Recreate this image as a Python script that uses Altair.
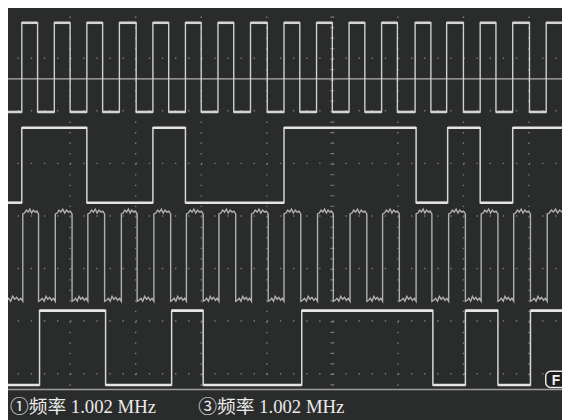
import altair as alt
import pandas as pd

# ---------------- values (screen pixel units) ----------------
# Channel 1: clock (edges alternate rise/fall, starts low)
CH1_EDGES = [22, 38, 55, 71, 88, 104, 121, 138, 155, 171, 188, 204, 221, 237, 254, 271,
             288, 304, 321, 337, 354, 370, 387, 403, 421, 437, 453, 470, 487, 503, 520, 537, 554]
CH1_START_HIGH = False
CH1_LEVELS = [20, 110.5]          # high, low

# Channel 2: data (starts low)
CH2_EDGES = [22, 88, 155, 188, 288, 422, 454, 487, 520]
CH2_START_HIGH = False
CH2_LEVELS = [126.5, 202.5]

# Channel 3: clock copy (starts low)
CH3_EDGES = [23, 39, 56, 73, 89, 106, 123, 139, 156, 173, 189, 206, 222, 239, 255, 272,
             288, 305, 322, 338, 355, 372, 388, 405, 422, 438, 455, 472, 488, 505, 521, 538, 555]
CH3_START_HIGH = False
CH3_LEVELS = [214, 302.5]
CH3_TOP_NOISE = [-1, -4, -2, -5, -1, -4, -2, -3]
CH3_BOT_NOISE = [-1, -3, 0, -5, -2, -4, -1, -3]

# Channel 4: delayed data (starts high)
CH4_EDGES = [7, 40, 107, 174, 206, 306, 439, 472, 505, 538]
CH4_START_HIGH = True
CH4_LEVELS = [312, 387.5]

TRIGGER_LEVEL = [77]
GRID_Y = [56, 109.3, 162.6, 216, 269.3, 322.6, 376]
GRID_X = [71, 137.5, 204, 270.5, 403.5, 470, 536.5]
CENTER_X = [337]
LABELS = ["①频率 1.002 MHz", "③频率 1.002 MHz"]
LABEL_X = [10, 201]

# ---------------- styling / layout ----------------
BG = "#2a2b2b"
X_DOMAIN = [8, 570]
Y_DOMAIN = [8, 420]
LEFT, RIGHT, TOP, BOTTOM = 4.5, 574, 3, 391
xs = alt.Scale(domain=X_DOMAIN, nice=False, zero=False)
ys = alt.Scale(domain=Y_DOMAIN, nice=False, zero=False, reverse=True)


def trace(edges, start_high, levels, top_noise=None, bot_noise=None):
    hi, lo = levels
    bounds = [LEFT] + edges + [RIGHT]
    xs_, ys_ = [], []
    seg = {"x": [], "x2": [], "y": []}
    state = start_high
    for a, b in zip(bounds[:-1], bounds[1:]):
        y = hi if state else lo
        xs_.append(a); ys_.append(y)
        noise = top_noise if state else bot_noise
        if noise and b - a > 8:
            n = len(noise)
            for j, off in enumerate(noise):
                xs_.append(a + (b - a) * (j + 1) / (n + 1)); ys_.append(y + off)
        xs_.append(b); ys_.append(y)
        seg["x"].append(a); seg["x2"].append(b); seg["y"].append(y)
        state = not state
    return (pd.DataFrame({"x": xs_, "y": ys_, "i": list(range(len(xs_)))}),
            pd.DataFrame(seg))


def line_layer(df, color, width):
    return alt.Chart(df).mark_line(color=color, strokeWidth=width, clip=True,
                                   strokeJoin="miter").encode(
        x=alt.X("x:Q", scale=xs, axis=None),
        y=alt.Y("y:Q", scale=ys, axis=None),
        order=alt.Order("i:Q"),
    )


def flat_layer(df, color, width):
    return alt.Chart(df).mark_rule(color=color, strokeWidth=width, clip=True,
                                   strokeCap="butt").encode(
        x=alt.X("x:Q", scale=xs, axis=None),
        x2="x2:Q",
        y=alt.Y("y:Q", scale=ys, axis=None),
    )


def channel(edges, start_high, levels, edge_color, flat_color, edge_w, flat_w,
            top_noise=None, bot_noise=None):
    pts, segs = trace(edges, start_high, levels, top_noise, bot_noise)
    layers = [line_layer(pts, edge_color, edge_w)]
    if flat_w:
        layers.append(flat_layer(segs, flat_color, flat_w))
    return layers


def hrules(yvals, color, width, dash=None):
    df = pd.DataFrame({"y": yvals, "x": [LEFT] * len(yvals), "x2": [RIGHT] * len(yvals)})
    kw = dict(color=color, strokeWidth=width, clip=True)
    if dash:
        kw["strokeDash"] = dash
    return alt.Chart(df).mark_rule(**kw).encode(
        y=alt.Y("y:Q", scale=ys, axis=None),
        x=alt.X("x:Q", scale=xs, axis=None),
        x2="x2:Q",
    )


def vrules(xvals, color, width, dash=None):
    df = pd.DataFrame({"x": xvals, "y": [TOP] * len(xvals), "y2": [BOTTOM] * len(xvals)})
    kw = dict(color=color, strokeWidth=width, clip=True)
    if dash:
        kw["strokeDash"] = dash
    return alt.Chart(df).mark_rule(**kw).encode(
        x=alt.X("x:Q", scale=xs, axis=None),
        y=alt.Y("y:Q", scale=ys, axis=None),
        y2="y2:Q",
    )


grid_h = hrules(GRID_Y, "#7c7c7c", 1.4, [1.4, 11.9])
grid_v = vrules(GRID_X, "#7c7c7c", 1.4, [1.4, 9.26])
center_v = vrules(CENTER_X, "#7c7c7c", 4, [1.2, 9.46])
trigger = hrules(TRIGGER_LEVEL, "#b0b0b0", 1.2)
bottom_line = hrules([392], "#9c9c9c", 1.6)

ch1 = channel(CH1_EDGES, CH1_START_HIGH, CH1_LEVELS, "#d0d0d0", "#d4d4d4", 1.4, 2.6)
ch2 = channel(CH2_EDGES, CH2_START_HIGH, CH2_LEVELS, "#d8d8d8", "#e4e4e4", 1.5, 2.6)
ch3 = channel(CH3_EDGES, CH3_START_HIGH, CH3_LEVELS, "#b0b0b0", "#b0b0b0", 1.4, 0,
              CH3_TOP_NOISE, CH3_BOT_NOISE)
ch4 = channel(CH4_EDGES, CH4_START_HIGH, CH4_LEVELS, "#d8d8d8", "#e4e4e4", 1.5, 2.6)

labels = alt.Chart(pd.DataFrame({"t": LABELS, "x": LABEL_X, "y": [416] * len(LABELS)})).mark_text(
    align="left", baseline="alphabetic", color="#ececec", fontSize=19,
    font="Liberation Serif, Noto Sans CJK SC").encode(
    x=alt.X("x:Q", scale=xs, axis=None),
    y=alt.Y("y:Q", scale=ys, axis=None),
    text="t:N",
)

fbox = alt.Chart(pd.DataFrame({"x": [553.5], "x2": [576], "y": [373.5], "y2": [390]})).mark_rect(
    fill="#1e1f1f", stroke="#e8e8e8", strokeWidth=1.5, cornerRadius=5, clip=True).encode(
    x=alt.X("x:Q", scale=xs, axis=None),
    x2="x2:Q",
    y=alt.Y("y:Q", scale=ys, axis=None),
    y2="y2:Q",
)
ftext = alt.Chart(pd.DataFrame({"t": ["F"], "x": [559.5], "y": [387.5]})).mark_text(
    align="left", baseline="alphabetic", color="#f2f2f2", fontSize=14, fontWeight="bold",
    font="Liberation Sans").encode(
    x=alt.X("x:Q", scale=xs, axis=None),
    y=alt.Y("y:Q", scale=ys, axis=None),
    text="t:N",
)

chart = alt.layer(
    grid_h, grid_v, center_v, trigger, *ch3, *ch1, *ch2, *ch4,
    bottom_line, labels, fbox, ftext
).properties(
    width=562, height=412, padding=0, background=BG,
    autosize=alt.AutoSizeParams(type="none"),
).configure_view(stroke=None, fill=BG)

chart.save("out.html", embed_options={"renderer": "svg", "actions": False})
